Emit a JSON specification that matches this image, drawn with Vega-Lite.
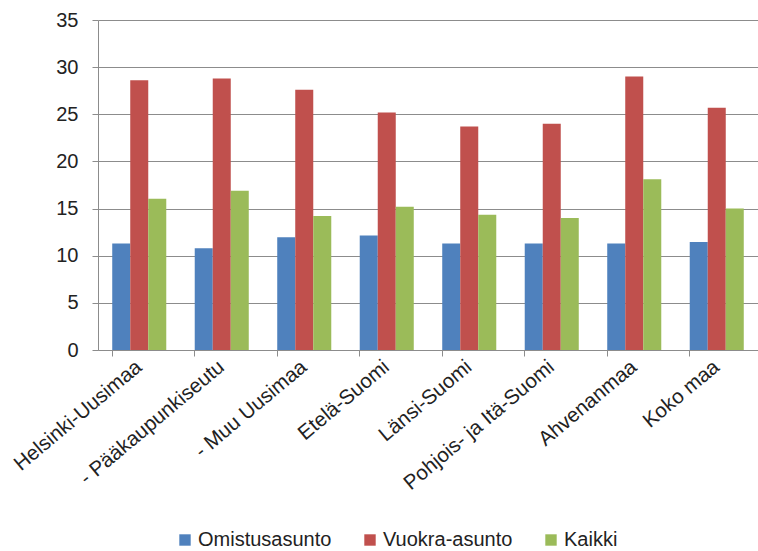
{
  "$schema": "https://vega.github.io/schema/vega-lite/v6.json",
  "width": 660,
  "height": 330,
  "autosize": {"type": "none"},
  "padding": {"left": 98, "top": 20, "right": 0, "bottom": 201},
  "background": "white",
  "config": {
    "font": "Liberation Sans",
    "view": {"stroke": null}
  },
  "data": {
    "values": [
      {"alue": "Helsinki-Uusimaa", "sarja": "Omistusasunto", "arvo": 11.3},
      {"alue": "Helsinki-Uusimaa", "sarja": "Vuokra-asunto", "arvo": 28.6},
      {"alue": "Helsinki-Uusimaa", "sarja": "Kaikki", "arvo": 16.05},
      {"alue": "- Pääkaupunkiseutu", "sarja": "Omistusasunto", "arvo": 10.8},
      {"alue": "- Pääkaupunkiseutu", "sarja": "Vuokra-asunto", "arvo": 28.8},
      {"alue": "- Pääkaupunkiseutu", "sarja": "Kaikki", "arvo": 16.9},
      {"alue": "- Muu Uusimaa", "sarja": "Omistusasunto", "arvo": 11.95},
      {"alue": "- Muu Uusimaa", "sarja": "Vuokra-asunto", "arvo": 27.6},
      {"alue": "- Muu Uusimaa", "sarja": "Kaikki", "arvo": 14.2},
      {"alue": "Etelä-Suomi", "sarja": "Omistusasunto", "arvo": 12.15},
      {"alue": "Etelä-Suomi", "sarja": "Vuokra-asunto", "arvo": 25.2},
      {"alue": "Etelä-Suomi", "sarja": "Kaikki", "arvo": 15.2},
      {"alue": "Länsi-Suomi", "sarja": "Omistusasunto", "arvo": 11.3},
      {"alue": "Länsi-Suomi", "sarja": "Vuokra-asunto", "arvo": 23.7},
      {"alue": "Länsi-Suomi", "sarja": "Kaikki", "arvo": 14.35},
      {"alue": "Pohjois- ja Itä-Suomi", "sarja": "Omistusasunto", "arvo": 11.3},
      {"alue": "Pohjois- ja Itä-Suomi", "sarja": "Vuokra-asunto", "arvo": 24.0},
      {"alue": "Pohjois- ja Itä-Suomi", "sarja": "Kaikki", "arvo": 14.0},
      {"alue": "Ahvenanmaa", "sarja": "Omistusasunto", "arvo": 11.3},
      {"alue": "Ahvenanmaa", "sarja": "Vuokra-asunto", "arvo": 29.0},
      {"alue": "Ahvenanmaa", "sarja": "Kaikki", "arvo": 18.1},
      {"alue": "Koko maa", "sarja": "Omistusasunto", "arvo": 11.45},
      {"alue": "Koko maa", "sarja": "Vuokra-asunto", "arvo": 25.7},
      {"alue": "Koko maa", "sarja": "Kaikki", "arvo": 15.0}
    ]
  },
  "mark": {"type": "bar"},
  "encoding": {
    "x": {
      "field": "alue",
      "type": "nominal",
      "sort": null,
      "title": null,
      "scale": {"paddingInner": 0.345, "paddingOuter": 0.1725},
      "axis": {
        "labelAngle": -40,
        "labelAlign": "right",
        "labelBaseline": "middle",
        "labelFontSize": 20.5,
        "labelColor": "#222222",
        "labelPadding": 8,
        "bandPosition": 0,
        "tickSize": 6,
        "tickColor": "#8c8c8c",
        "domainColor": "#8c8c8c",
        "labelLimit": 400,
        "labelOverlap": false
      }
    },
    "xOffset": {
      "field": "sarja",
      "type": "nominal",
      "sort": ["Omistusasunto", "Vuokra-asunto", "Kaikki"]
    },
    "y": {
      "field": "arvo",
      "type": "quantitative",
      "title": null,
      "scale": {"domain": [0, 35], "nice": false},
      "axis": {
        "values": [0, 5, 10, 15, 20, 25, 30, 35],
        "labelFontSize": 20,
        "labelColor": "#222222",
        "labelPadding": 14,
        "tickSize": 6,
        "tickColor": "#8c8c8c",
        "domainColor": "#8c8c8c",
        "gridColor": "#8c8c8c",
        "gridOpacity": 1
      }
    },
    "color": {
      "field": "sarja",
      "type": "nominal",
      "sort": ["Omistusasunto", "Vuokra-asunto", "Kaikki"],
      "scale": {
        "domain": ["Omistusasunto", "Vuokra-asunto", "Kaikki"],
        "range": ["#4F81BD", "#C0504D", "#9BBB59"]
      },
      "legend": {
        "title": null,
        "orient": "none",
        "direction": "horizontal",
        "legendX": 77,
        "legendY": 510,
        "padding": 0,
        "symbolType": "square",
        "symbolSize": 130,
        "symbolStrokeWidth": 0,
        "symbolOpacity": 1,
        "labelFontSize": 20,
        "labelColor": "#222222",
        "labelOffset": 3,
        "columnPadding": 28,
        "labelLimit": 300
      }
    }
  }
}
